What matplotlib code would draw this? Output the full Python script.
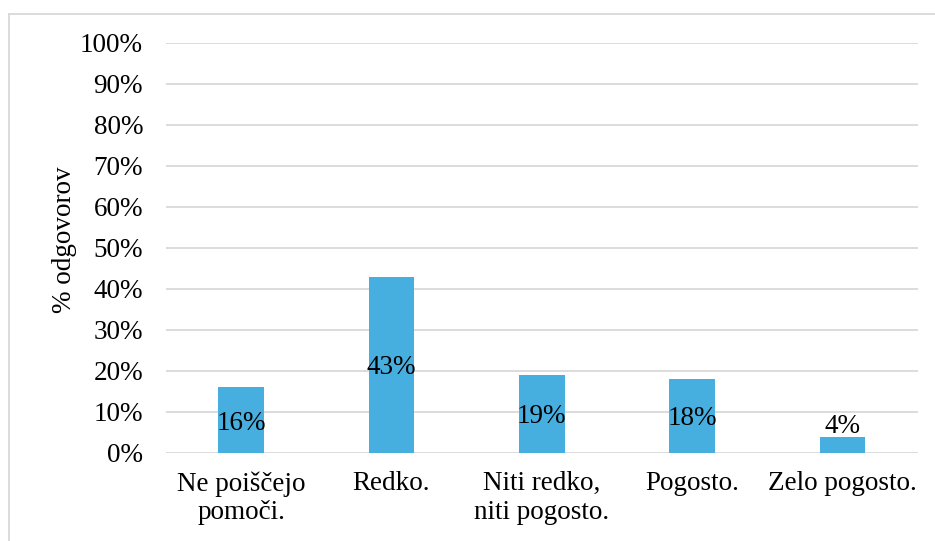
import matplotlib.pyplot as plt
from matplotlib.lines import Line2D
from matplotlib.ticker import MultipleLocator, FuncFormatter

# podatki
categories = ['Ne poiščejo\npomoči.', 'Redko.', 'Niti redko,\nniti pogosto.', 'Pogosto.', 'Zelo pogosto.']
values = [16, 43, 19, 18, 4]

plt.rcParams['font.family'] = ['Liberation Serif', 'DejaVu Serif']
fs = 19.5

fig = plt.figure(figsize=(9.35, 5.41), dpi=100)
ax = fig.add_axes([0.1775, 0.1627, 0.804, 0.7579])

x = range(len(categories))
ax.bar(x, values, width=0.305, color='#47AFE0', zorder=3)

# oznake podatkov
for i, v in enumerate(values):
    if v < 8:
        ax.text(i, v - 0.6, f'{v}%', ha='center', va='bottom', fontsize=fs, zorder=4)
    else:
        ax.text(i, v / 2 - 0.7, f'{v}%', ha='center', va='center', fontsize=fs, zorder=4)

ax.set_xlim(-0.5, len(categories) - 0.5)
ax.set_ylim(0, 100)
ax.yaxis.set_major_locator(MultipleLocator(10))
ax.yaxis.set_major_formatter(FuncFormatter(lambda y, p: f'{y:.0f}%'))
ax.set_xticks(list(x))
ax.set_xticklabels(categories, fontsize=fs, linespacing=1.2)
ax.tick_params(axis='y', labelsize=fs, length=0, pad=16.5)
ax.tick_params(axis='x', length=0, pad=13)
ax.grid(True, axis='y', color='#D9D9D9', linewidth=1.3, zorder=0)
for s in ax.spines.values():
    s.set_visible(False)
ax.set_ylabel('% odgovorov', fontsize=fs)
ax.yaxis.set_label_coords(-0.119, 0.52)

# okvir
fig.add_artist(Line2D([8.5 / 935, 1], [1 - 13.5 / 541] * 2, color='#D9D9D9', linewidth=1.3))
fig.add_artist(Line2D([8.5 / 935] * 2, [0, 1 - 13.5 / 541], color='#D9D9D9', linewidth=1.3))

fig.savefig('out.png', dpi=100)
